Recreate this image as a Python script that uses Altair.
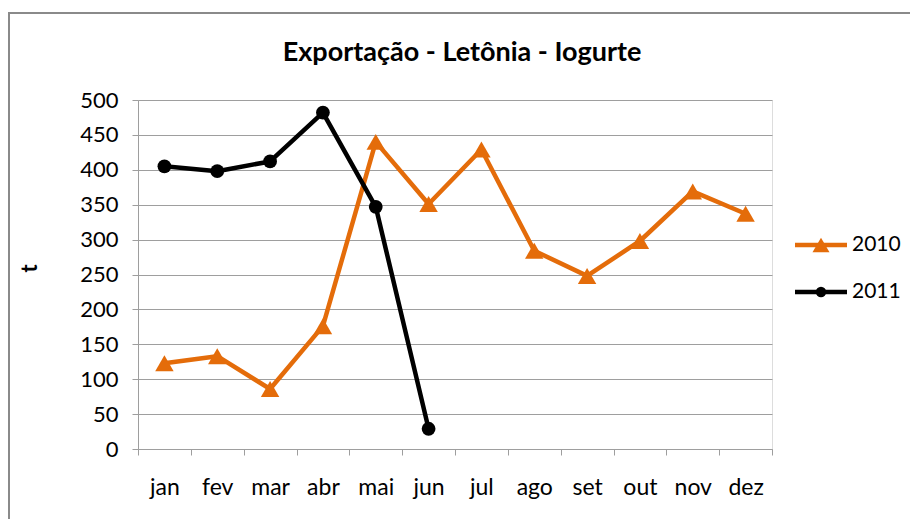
import altair as alt
import pandas as pd

months = ["jan", "fev", "mar", "abr", "mai", "jun", "jul", "ago", "set", "out", "nov", "dez"]
v2010 = [123, 133, 86, 176, 440, 351, 429, 284, 248, 298, 369, 337]
v2011 = [405, 398, 412, 482, 347, 29]
series = ["2010", "2011"]
colors = ["#E46C0A", "#000000"]
shapes = ["triangle-up", "circle"]
y_ticks = list(range(0, 501, 50))
title_text = "Exportação - Letônia - Iogurte"

rows = []
for m, v in zip(months, v2010):
    rows.append({"mes": m, "t": v, "serie": "2010"})
for m, v in zip(months, v2011):
    rows.append({"mes": m, "t": v, "serie": "2011"})
df = pd.DataFrame(rows)

W, H = 634, 349
FONT = "Lato"
GRID = "#9e9e9e"

x_enc = alt.X(
    "mes:N",
    sort=months,
    scale=alt.Scale(type="band", domain=months, paddingInner=0, paddingOuter=0),
    axis=alt.Axis(
        title=None, labelAngle=0, tickBand="extent", grid=False,
        domainColor=GRID, tickColor=GRID, tickSize=6,
        labelFont=FONT, labelFontSize=23, labelColor="black", labelPadding=21,
    ),
)
y_enc = alt.Y(
    "t:Q",
    scale=alt.Scale(domain=[0, 500], nice=False),
    axis=alt.Axis(
        values=y_ticks, title="t", grid=True, gridColor=GRID,
        domainColor=GRID, tickColor=GRID, tickSize=6,
        labelFont=FONT, labelFontSize=22, labelColor="black", labelPadding=14,
        titleFont=FONT, titleFontSize=22, titleFontWeight="bold", titleColor="black",
        titleX=-109, titleY=168, titleAlign="center", titleBaseline="middle", titleAngle=-90,
    ),
)
color_enc = alt.Color("serie:N", scale=alt.Scale(domain=series, range=colors), legend=None)

lines = alt.Chart(df).mark_line(strokeWidth=4.5, strokeJoin="round").encode(
    x=x_enc, y=y_enc, color=color_enc, detail="serie:N"
)
points = alt.Chart(df).mark_point(filled=True, opacity=1).encode(
    x=x_enc, y=y_enc, color=color_enc,
    shape=alt.Shape("serie:N", scale=alt.Scale(domain=series, range=shapes), legend=None),
    size=alt.Size("serie:O", scale=alt.Scale(domain=series, range=[340, 190]), legend=None),
)

one = pd.DataFrame({"label": [title_text]})
frame = alt.Chart(one).mark_rect(fill="transparent", stroke="#8a8a8a", strokeWidth=2).encode(
    x=alt.value(-129), x2=alt.value(W + 160), y=alt.value(-87), y2=alt.value(H + 120)
)
title = alt.Chart(one).mark_text(
    font=FONT, fontSize=27, fontWeight="bold", color="black", align="center", baseline="middle"
).encode(x=alt.value(324), y=alt.value(-47), text="label:N")

legend_layers = []
leg_y = [145, 192]
leg_sizes = [290, 110]
for i, s in enumerate(series):
    ldf = pd.DataFrame({"serie": [s]})
    legend_layers.append(
        alt.Chart(ldf).mark_rule(strokeWidth=4.5, color=colors[i]).encode(
            x=alt.value(657), x2=alt.value(709), y=alt.value(leg_y[i])
        )
    )
    legend_layers.append(
        alt.Chart(ldf).mark_point(filled=True, opacity=1, shape=shapes[i], size=leg_sizes[i], color=colors[i]).encode(
            x=alt.value(683), y=alt.value(leg_y[i])
        )
    )
    legend_layers.append(
        alt.Chart(ldf).mark_text(align="left", baseline="middle", font=FONT, fontSize=21, color="black").encode(
            x=alt.value(714), y=alt.value(leg_y[i]), text="serie:N"
        )
    )

chart = alt.layer(frame, title, lines, points, *legend_layers).properties(
    width=W,
    height=H,
    autosize=alt.AutoSizeParams(type="none"),
    padding={"left": 130, "top": 92, "right": 138, "bottom": 70},
).configure_view(stroke=None).configure(background="white")

chart.save("out.html", embed_options={"renderer": "svg", "actions": False})
